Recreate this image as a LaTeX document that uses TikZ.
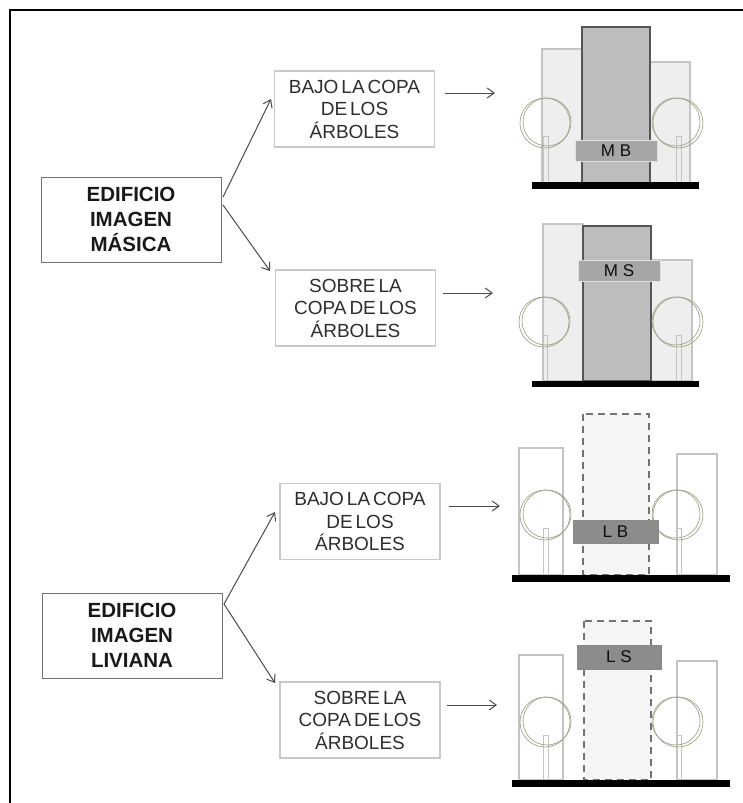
\documentclass[tikz,border=0pt]{standalone}
\usepackage{fontspec}
\setmainfont{Liberation Sans}
\usetikzlibrary{arrows.meta}
\definecolor{boxedge}{HTML}{C8C8C8}
\definecolor{bldedge}{HTML}{C4C4C4}
\definecolor{ring}{HTML}{A4A48C}
\definecolor{lightfill}{HTML}{EEEEEE}
\definecolor{darkfill}{HTML}{BDBDBD}
\definecolor{darkedge}{HTML}{555555}
\definecolor{labelfill}{HTML}{A6A6A6}
\definecolor{labeldark}{HTML}{8C8C8C}
\definecolor{paleblock}{HTML}{F5F5F5}
\definecolor{subtext}{HTML}{2E2E2E}
\newcommand{\subfont}{\fontsize{19}{22.5}\selectfont\fontdimen2\font=3pt\relax}
\newcommand{\tagfont}{\fontsize{17}{18}\selectfont}
\tikzset{
  mainbox/.style={draw=black!55,line width=1pt,fill=white,align=center,inner sep=0pt,text=black!90,minimum width=180pt,minimum height=85pt,font=\fontsize{20.5}{25}\selectfont\bfseries},
  subbox/.style={draw=boxedge,line width=1.4pt,fill=white,align=center,inner sep=0pt,text=subtext,minimum width=160pt,minimum height=76pt,font=\subfont},
  conn/.style={draw=black!70,line width=1pt,-{Straight Barb[length=7pt,width=10pt]}},
  blockside/.style={draw=bldedge,line width=1.6pt},
  tower/.style={draw=darkedge,line width=2.5pt,fill=darkfill},
  ghost/.style={draw=black!55,line width=1.8pt,dash pattern=on 7pt off 5pt,fill=paleblock},
  tag/.style={fill=labelfill,draw=black!12,line width=0.8pt,inner sep=0pt,text=black!95,font=\tagfont},
  tagdark/.style={tag,fill=labeldark,draw=darkedge!70},
  ground/.style={fill=black},
  ringline/.style={draw=ring,line width=0.7pt},
  trunk/.style={draw=bldedge,line width=1pt},
}
% #1 centre x, #2 centre y, #3 ground y, #4 offset of the second ring
\newcommand{\treemark}[4]{%
  \draw[trunk] (#1-1.5,#2+13) rectangle (#1+3.5,#3);
  \draw[ringline] (#1,#2) circle (25);
  \draw[ringline] (#1+#4,#2-1) circle (24);
}
\begin{document}
\begin{tikzpicture}[x=1pt,y=-1pt]
\useasboundingbox (0,0) rectangle (743,803);
\fill[white] (0,0) rectangle (743,803);
\draw[black,line width=2.8pt] (10,803) -- (10,10) -- (743,10);
% left boxes
\node[mainbox] (m) at (131,219.5) {EDIFICIO\\IMAGEN\\MÁSICA};
\node[mainbox] (l) at (132,635.5) {EDIFICIO\\IMAGEN\\LIVIANA};
% sub boxes
\node[subbox] (a) at (354.5,109) {BAJO LA COPA\\DE LOS\\ÁRBOLES};
\node[subbox] (b) at (355.5,308) {SOBRE LA\\COPA DE LOS\\ÁRBOLES};
\node[subbox] (c) at (360,521.5) {BAJO LA COPA\\DE LOS\\ÁRBOLES};
\node[subbox] (d) at (360,720) {SOBRE LA\\COPA DE LOS\\ÁRBOLES};
% free ends of the connectors
\coordinate (a1) at (445,93); \coordinate (a2) at (495,93);
\coordinate (b1) at (443,293); \coordinate (b2) at (493,293);
\coordinate (c1) at (449,506); \coordinate (c2) at (500,506);
\coordinate (d1) at (447,705); \coordinate (d2) at (497,705);
\coordinate (ms) at (223,197); \coordinate (mt) at (271,99);
\coordinate (mu) at (223,205); \coordinate (mv) at (270,271);
\coordinate (ls) at (224,604); \coordinate (lt) at (275,512);
\coordinate (lv) at (275,683);
\draw[conn] (ms) -- (mt);
\draw[conn] (mu) -- (mv);
\draw[conn] (ls) -- (lt);
\draw[conn] (ls) -- (lv);
\draw[conn] (a1) -- (a2);
\draw[conn] (b1) -- (b2);
\draw[conn] (c1) -- (c2);
\draw[conn] (d1) -- (d2);
% MB
\draw[blockside,fill=lightfill] (542,49) rectangle (582,183);
\draw[blockside,fill=lightfill] (650,62) rectangle (690,183);
\draw[tower] (582,27) rectangle (650,183);
\treemark{545}{123}{183}{2}\treemark{678}{123}{183}{-2}
\node[tag,minimum width=82pt,minimum height=21pt] (tmb) at (616,150.5) {M B};
\fill[ground] (532,182) rectangle (699,189);
% MS
\draw[blockside,fill=lightfill] (543,224) rectangle (583,381);
\draw[blockside,fill=lightfill] (651,260) rectangle (692,381);
\draw[tower] (583,226) rectangle (651,381);
\treemark{544}{322}{381}{2}\treemark{678}{322}{381}{-2}
\node[tag,minimum width=82pt,minimum height=21pt] (tms) at (619,270.5) {M S};
\fill[ground] (532,381) rectangle (699,387);
% LB
\draw[blockside,fill=white] (519,448) rectangle (563,575);
\draw[blockside,fill=white] (677,454) rectangle (717,575);
\draw[ghost] (583,414) rectangle (649,575);
\treemark{545}{515}{575}{2}\treemark{678}{515}{575}{-2}
\node[tagdark,minimum width=85pt,minimum height=23pt] (tlb) at (615.5,531.5) {L B};
\fill[ground] (512,575) rectangle (730,582);
% LS
\draw[blockside,fill=white] (519,655) rectangle (563,780);
\draw[blockside,fill=white] (677,661) rectangle (717,780);
\draw[ghost] (584,621) rectangle (651,780);
\treemark{545}{722}{780}{2}\treemark{678}{722}{780}{-2}
\node[tagdark,minimum width=84pt,minimum height=24pt] (tls) at (619,657) {L S};
\fill[ground] (512,780) rectangle (730,787);
\end{tikzpicture}
\end{document}
